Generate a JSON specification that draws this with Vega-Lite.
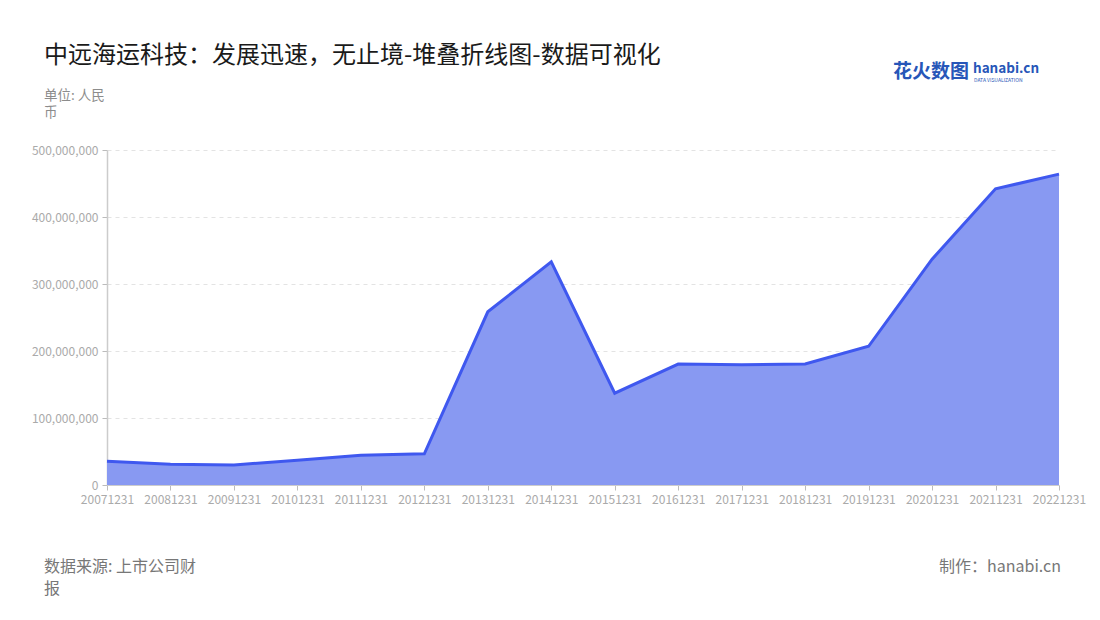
{
  "$schema": "https://vega.github.io/schema/vega-lite/v6.json",
  "autosize": "none",
  "width": 952,
  "height": 335,
  "padding": {"left": 107, "top": 150, "right": 41, "bottom": 135},
  "background": "#ffffff",
  "config": {
    "font": "Noto Sans CJK SC",
    "view": {"stroke": null},
    "axisY": {
      "labelFontSize": 12, "labelColor": "#aaaaaa", "labelPadding": 4,
      "tickColor": "#bbbbbb", "tickSize": 5, "domainColor": "#cccccc", "domainWidth": 1.5,
      "grid": true, "gridColor": "#e3e3e3", "gridDash": [4, 4], "title": null
    },
    "axisX": {
      "labelAngle": 0, "labelFontSize": 12, "labelColor": "#aaaaaa",
      "labelPadding": 4, "tickColor": "#bbbbbb", "tickSize": 5, "domainColor": "#cccccc",
      "labelOverlap": false, "grid": false, "title": null
    }
  },
  "data": {
    "values": [
      {"date": "20071231", "value": 35500000},
      {"date": "20081231", "value": 31000000},
      {"date": "20091231", "value": 30000000},
      {"date": "20101231", "value": 37000000},
      {"date": "20111231", "value": 44500000},
      {"date": "20121231", "value": 46500000},
      {"date": "20131231", "value": 258500000},
      {"date": "20141231", "value": 333000000},
      {"date": "20151231", "value": 137000000},
      {"date": "20161231", "value": 180500000},
      {"date": "20171231", "value": 179500000},
      {"date": "20181231", "value": 180500000},
      {"date": "20191231", "value": 207000000},
      {"date": "20201231", "value": 337000000},
      {"date": "20211231", "value": 442000000},
      {"date": "20221231", "value": 464000000}
    ]
  },
  "layer": [
    {
      "mark": {"type": "area", "color": "#8899f2", "opacity": 1, "line": {"color": "#3f58ef", "strokeWidth": 3}},
      "encoding": {
        "x": {
          "field": "date", "type": "ordinal",
          "scale": {"type": "point", "padding": 0},
          "axis": {"title": null}
        },
        "y": {
          "field": "value", "type": "quantitative",
          "scale": {"domain": [0, 500000000], "nice": false},
          "axis": {
            "title": null,
            "values": [0, 100000000, 200000000, 300000000, 400000000, 500000000],
            "labelExpr": "format(datum.value, ',')"
          }
        }
      }
    },
    {
      "data": {"values": [{"t": "中远海运科技：发展迅速，无止境-堆叠折线图-数据可视化"}]},
      "mark": {"type": "text", "align": "left", "baseline": "middle", "fontSize": 24, "color": "#1a1a1a", "x": -63},
      "encoding": {"text": {"field": "t"}, "y": {"value": -94}}
    },
    {
      "data": {"values": [{"t": "单位: 人民"}]},
      "mark": {"type": "text", "align": "left", "baseline": "middle", "fontSize": 13.5, "color": "#8c8c8c", "x": -63},
      "encoding": {"text": {"field": "t"}, "y": {"value": -54}}
    },
    {
      "data": {"values": [{"t": "币"}]},
      "mark": {"type": "text", "align": "left", "baseline": "middle", "fontSize": 13.5, "color": "#8c8c8c", "x": -63},
      "encoding": {"text": {"field": "t"}, "y": {"value": -37}}
    },
    {
      "data": {"values": [{"t": "数据来源: 上市公司财"}]},
      "mark": {"type": "text", "align": "left", "baseline": "middle", "fontSize": 16, "color": "#777777", "x": -63},
      "encoding": {"text": {"field": "t"}, "y": {"value": 417}}
    },
    {
      "data": {"values": [{"t": "报"}]},
      "mark": {"type": "text", "align": "left", "baseline": "middle", "fontSize": 16, "color": "#777777", "x": -63},
      "encoding": {"text": {"field": "t"}, "y": {"value": 439}}
    },
    {
      "data": {"values": [{"t": "制作：hanabi.cn"}]},
      "mark": {"type": "text", "align": "right", "baseline": "middle", "fontSize": 16, "color": "#777777", "x": 954},
      "encoding": {"text": {"field": "t"}, "y": {"value": 417}}
    },
    {
      "data": {"values": [{"t": "花火数图"}]},
      "mark": {"type": "text", "align": "left", "baseline": "middle", "fontSize": 19, "fontWeight": "bold", "color": "#2756b8", "x": 786},
      "encoding": {"text": {"field": "t"}, "y": {"value": -78}}
    },
    {
      "data": {"values": [{"t": "hanabi.cn"}]},
      "mark": {"type": "text", "align": "left", "baseline": "middle", "fontSize": 13.5, "fontWeight": "bold", "color": "#2756b8", "x": 866},
      "encoding": {"text": {"field": "t"}, "y": {"value": -81}}
    },
    {
      "data": {"values": [{"t": "DATA VISUALIZATION"}]},
      "mark": {"type": "text", "align": "left", "baseline": "middle", "fontSize": 5, "color": "#2756b8", "x": 867},
      "encoding": {"text": {"field": "t"}, "y": {"value": -70}}
    }
  ]
}
